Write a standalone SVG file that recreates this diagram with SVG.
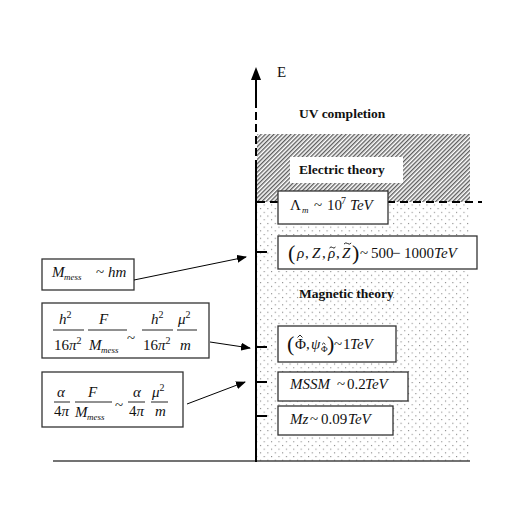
<svg xmlns="http://www.w3.org/2000/svg" width="518" height="518" viewBox="0 0 518 518">
<defs>
<pattern id="hatch" width="3" height="3" patternUnits="userSpaceOnUse" patternTransform="rotate(45)">
<rect width="3" height="3" fill="#fff"/>
<line x1="0.7" y1="0" x2="0.7" y2="3" stroke="#555" stroke-width="1.3"/>
</pattern>
<pattern id="dots" width="7.4" height="7.4" patternUnits="userSpaceOnUse">
<rect width="7.4" height="7.4" fill="#fff"/>
<rect x="1" y="1" width="1" height="1" fill="#666"/>
<rect x="4.7" y="4.7" width="1" height="1" fill="#777"/>
</pattern>
<marker id="ah" markerWidth="10" markerHeight="8" refX="9" refY="4" orient="auto" markerUnits="userSpaceOnUse">
<path d="M0,0 L10,4 L0,8 Z" fill="#000"/>
</marker>
<style>
.box{fill:#fff;stroke:#333;stroke-width:1.3}
.m{font-family:"Liberation Serif","Times New Roman",serif;font-size:15px;font-style:italic;fill:#111}
.r{font-style:normal}
.sb{font-size:9px}
.sp{font-size:10px}
.lbl{font-family:"Liberation Serif","Times New Roman",serif;font-weight:bold;font-size:13.5px;fill:#111}
.bar{stroke:#222;stroke-width:1}
.acc{stroke:#111;stroke-width:0.9;fill:none}
.tick{stroke:#000;stroke-width:2}
.conn{stroke:#000;stroke-width:1;fill:none;marker-end:url(#ah)}
</style>
</defs>
<rect width="518" height="518" fill="#fff"/>

<g id="regions">
<rect x="257" y="134" width="213" height="68" fill="url(#hatch)"/>
<rect x="257" y="202" width="213" height="259" fill="url(#dots)"/>
<rect x="290" y="157" width="113" height="26" fill="#fff"/>
<line x1="257" y1="202" x2="482" y2="202" stroke="#000" stroke-width="1.8" stroke-dasharray="8,5"/>
<line x1="53" y1="461" x2="470" y2="461" stroke="#444" stroke-width="1.5"/>
</g>

<g id="axis">
<line x1="256" y1="78" x2="256" y2="100" stroke="#000" stroke-width="2"/>
<line x1="256" y1="100" x2="256" y2="165" stroke="#000" stroke-width="2" stroke-dasharray="8,4"/>
<line x1="256" y1="165" x2="256" y2="462" stroke="#000" stroke-width="2"/>
<polygon points="256,67 251,80 261,80" fill="#000"/>
<text x="277" y="77" font-family="'Liberation Serif',serif" font-size="15" fill="#111">E</text>
<line class="tick" x1="256" y1="252" x2="267" y2="252"/>
<line class="tick" x1="256" y1="347" x2="267" y2="347"/>
<line class="tick" x1="256" y1="382" x2="267" y2="382"/>
<line class="tick" x1="256" y1="416" x2="267" y2="416"/>
</g>

<g id="labels">
<text class="lbl" x="299" y="118">UV completion</text>
<text class="lbl" x="299" y="174">Electric theory</text>
<text class="lbl" x="299" y="298">Magnetic theory</text>
</g>

<g id="lambda">
<rect class="box" x="278" y="191" width="110" height="33"/>
<text class="m" y="210"><tspan class="r" x="290">Λ</tspan><tspan class="sb" x="302" dy="3">m</tspan><tspan class="r" x="314" dy="-3">~</tspan><tspan class="r" x="327">10</tspan><tspan class="r sp" x="341" dy="-6">7</tspan><tspan x="350" dy="6">TeV</tspan></text>
</g>

<g id="rho">
<rect class="box" x="278" y="236" width="199" height="33"/>
<text class="m" y="258"><tspan class="r" x="288" font-size="22" dy="2">(</tspan><tspan x="297" dy="-2">ρ</tspan><tspan class="r" x="305">,</tspan><tspan x="312">Z</tspan><tspan class="r" x="322">,</tspan><tspan x="328">ρ</tspan><tspan class="r" x="336">,</tspan><tspan x="342">Z</tspan><tspan class="r" x="352" font-size="22" dy="2">)</tspan><tspan class="r" x="360" dy="-2">~</tspan><tspan class="r" x="371">500</tspan><tspan class="r" x="392">−</tspan><tspan class="r" x="404">1000</tspan><tspan x="434">TeV</tspan></text>
<path class="acc" d="M329.5,248 q1.5,-2 3,-0.5 t3,-0.5"/>
<path class="acc" d="M344,244 q1.8,-2 3.6,-0.5 t3.6,-0.5"/>
</g>

<g id="phi">
<rect class="box" x="278" y="326" width="118" height="36"/>
<text class="m" y="349"><tspan class="r" x="287" font-size="22" dy="2">(</tspan><tspan class="r" x="295" dy="-2">Φ</tspan><tspan class="r" x="306">,</tspan><tspan x="311">ψ</tspan><tspan class="r sb" x="321" dy="3">Φ</tspan><tspan class="r" x="327" font-size="22" dy="-1">)</tspan><tspan class="r" x="334" dy="-2">~</tspan><tspan class="r" x="343">1</tspan><tspan x="350">TeV</tspan></text>
<polyline class="acc" points="297.5,337.5 300,335 302.5,337.5"/>
<polyline class="acc" points="322,344.5 323.7,343 325.4,344.5" stroke-width="0.7"/>
</g>

<g id="mssm">
<rect class="box" x="278" y="372" width="130" height="29"/>
<text class="m" y="389"><tspan x="290">MSSM</tspan><tspan class="r" x="337">~</tspan><tspan class="r" x="347">0.2</tspan><tspan x="365">TeV</tspan></text>
</g>

<g id="mz">
<rect class="box" x="278" y="406" width="115" height="29"/>
<text class="m" y="424"><tspan x="290">Mz</tspan><tspan class="r" x="310">~</tspan><tspan class="r" x="321">0.09</tspan><tspan x="348">TeV</tspan></text>
</g>

<g id="mmess">
<rect class="box" x="42" y="259" width="92" height="31"/>
<text class="m" y="277"><tspan x="52">M</tspan><tspan class="sb" x="64" dy="3">mess</tspan><tspan class="r" x="96" dy="-3">~</tspan><tspan x="108">hm</tspan></text>
</g>

<g id="softh">
<rect class="box" x="42" y="303" width="167" height="55"/>
<text class="m" x="59" y="324">h<tspan class="r sp" dy="-6">2</tspan></text>
<line class="bar" x1="53" y1="330" x2="84" y2="330"/>
<text class="m r" x="54" y="350">16<tspan class="m">π</tspan><tspan class="sp" dy="-6">2</tspan></text>
<text class="m" x="99" y="324">F</text>
<line class="bar" x1="88" y1="330" x2="127" y2="330"/>
<text class="m" y="350"><tspan x="89">M</tspan><tspan class="sb" x="101" dy="3">mess</tspan></text>
<text class="m r" x="127" y="343">~</text>
<text class="m" x="151" y="324">h<tspan class="r sp" dy="-6">2</tspan></text>
<line class="bar" x1="142" y1="330" x2="173" y2="330"/>
<text class="m r" x="143" y="350">16<tspan class="m">π</tspan><tspan class="sp" dy="-6">2</tspan></text>
<text class="m" x="178" y="324">μ<tspan class="r sp" dy="-6">2</tspan></text>
<line class="bar" x1="177" y1="330" x2="197" y2="330"/>
<text class="m" x="180" y="350">m</text>
</g>

<g id="softa">
<rect class="box" x="42" y="372" width="141" height="55"/>
<text class="m" x="57" y="397">α</text>
<line class="bar" x1="54" y1="402" x2="70" y2="402"/>
<text class="m r" x="54" y="416">4<tspan class="m">π</tspan></text>
<text class="m" x="88" y="397">F</text>
<line class="bar" x1="75" y1="402" x2="112" y2="402"/>
<text class="m" y="417"><tspan x="75">M</tspan><tspan class="sb" x="87" dy="3">mess</tspan></text>
<text class="m r" x="115" y="410">~</text>
<text class="m" x="133" y="397">α</text>
<line class="bar" x1="128" y1="402" x2="145" y2="402"/>
<text class="m r" x="129" y="416">4<tspan class="m">π</tspan></text>
<text class="m" x="152" y="397">μ<tspan class="r sp" dy="-6">2</tspan></text>
<line class="bar" x1="151" y1="402" x2="168" y2="402"/>
<text class="m" x="155" y="416">m</text>
</g>

<g id="connectors">
<line class="conn" x1="134" y1="280" x2="246" y2="257"/>
<line class="conn" x1="210" y1="342" x2="250" y2="348"/>
<line class="conn" x1="187" y1="404" x2="245" y2="382"/>
</g>
</svg>
